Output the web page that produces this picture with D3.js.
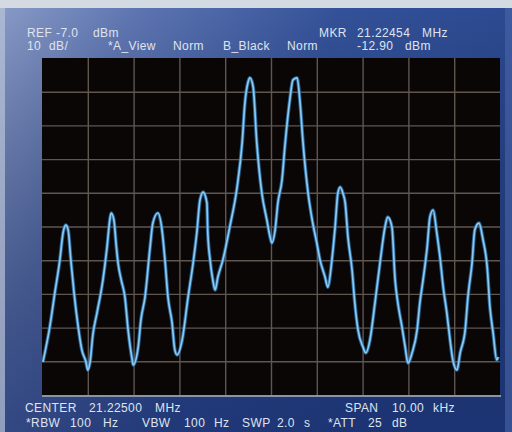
<!DOCTYPE html>
<html>
<head>
<meta charset="utf-8">
<script src="https://cdn.jsdelivr.net/npm/d3@7"></script>
<style>
  html, body { margin: 0; padding: 0; background: #2c4a8e; }
  svg { display: block; }
  .grid line { stroke: #5f5650; stroke-width: 1.4; }
  .grid .domain { display: none; }
  .readout { font-family: "Liberation Sans", Arial, sans-serif; font-size: 12px; letter-spacing: 0.4px; fill: #dfe4ef; }
</style>
</head>
<body>
<div id="chart"></div>
<script>
// instrument settings
const refLevelDbm = -7.0;
const dbPerDiv = 10;
const centerMHz = 21.225;
const spanKHz = 10.0;
const markerMHz = 21.22454;
const markerDbm = -12.90;

// trace: offset from center (kHz) and level (dBm)
const freqOffsetKHz = [
  -4.98, -4.83, -4.72, -4.61, -4.54, -4.48, -4.43, -4.37, -4.30, -4.21,
  -4.13, -4.04, -4.00, -3.95, -3.89, -3.80, -3.67, -3.58, -3.52, -3.49,
  -3.43, -3.38, -3.34, -3.27, -3.19, -3.12, -3.03, -3.01, -2.90, -2.84,
  -2.75, -2.64, -2.58, -2.47, -2.38, -2.31, -2.25, -2.16, -2.10, -2.05,
  -1.94, -1.81, -1.70, -1.62, -1.55, -1.48, -1.40, -1.38, -1.33, -1.27,
  -1.22, -1.16, -1.05, -0.90, -0.74, -0.63, -0.57, -0.50, -0.46, -0.39,
  -0.31, -0.20, -0.09, -0.02, 0.02, 0.09, 0.15, 0.24, 0.31, 0.41,
  0.48, 0.57, 0.63, 0.70, 0.81, 0.90, 1.00, 1.07, 1.18, 1.24,
  1.33, 1.40, 1.46, 1.51, 1.57, 1.62, 1.68, 1.77, 1.83, 1.90,
  2.01, 2.07, 2.16, 2.27, 2.38, 2.49, 2.55, 2.64, 2.71, 2.77,
  2.86, 2.93, 2.99, 3.08, 3.19, 3.25, 3.32, 3.41, 3.47, 3.54,
  3.62, 3.69, 3.76, 3.84, 3.91, 3.97, 4.06, 4.13, 4.24, 4.30,
  4.39, 4.45, 4.54, 4.63, 4.72, 4.78, 4.85, 4.93, 4.96
];
const levelDbm = [
  -97.2, -86.8, -76.7, -66.9, -58.9, -56.6, -58.0, -66.9, -76.7, -86.8,
  -93.6, -97.2, -99.6, -97.2, -89.2, -82.7, -72.9, -63.1, -55.1, -53.0,
  -55.1, -62.5, -67.8, -72.9, -77.9, -87.7, -96.6, -98.1, -92.8, -84.7,
  -77.9, -63.1, -56.0, -53.0, -58.0, -67.8, -77.9, -85.6, -93.6, -95.1,
  -90.7, -77.9, -67.8, -58.9, -49.1, -46.8, -50.0, -58.9, -66.9, -72.9,
  -75.8, -72.0, -66.9, -57.1, -45.3, -32.2, -20.4, -14.1, -12.9, -15.6,
  -32.2, -47.1, -55.1, -60.1, -61.9, -58.0, -50.0, -43.2, -32.2, -19.5,
  -13.5, -12.9, -19.5, -32.2, -47.1, -55.1, -61.9, -66.9, -72.0, -75.0,
  -66.9, -57.1, -47.1, -45.3, -47.1, -50.0, -60.1, -69.9, -79.7, -87.7,
  -92.8, -94.5, -90.7, -79.7, -67.8, -57.1, -54.2, -57.1, -72.9, -79.7,
  -86.8, -92.8, -97.5, -94.5, -87.7, -79.7, -72.9, -63.1, -54.2, -52.1,
  -58.9, -66.1, -75.0, -82.7, -90.7, -96.6, -99.6, -94.5, -87.7, -77.9,
  -67.8, -58.0, -56.0, -61.0, -69.0, -80.9, -88.6, -96.6, -95.7
];

const W = 512, H = 432;
const screen = { left: 42, top: 58, right: 500, bottom: 395 };

const svg = d3.select("#chart").append("svg")
  .attr("width", W).attr("height", H);

const defs = svg.append("defs");
const panelGrad = defs.append("linearGradient")
  .attr("id", "panel").attr("x1", "0").attr("y1", "0").attr("x2", "1").attr("y2", "0.35");
panelGrad.append("stop").attr("offset", "0").attr("stop-color", "#8a9cc8");
panelGrad.append("stop").attr("offset", "0.25").attr("stop-color", "#5d75b2");
panelGrad.append("stop").attr("offset", "0.6").attr("stop-color", "#34529a");
panelGrad.append("stop").attr("offset", "1").attr("stop-color", "#2a4890");

const shade = defs.append("linearGradient")
  .attr("id", "shade").attr("x1", "0").attr("y1", "0").attr("x2", "0").attr("y2", "1");
shade.append("stop").attr("offset", "0").attr("stop-color", "#000").attr("stop-opacity", 0);
shade.append("stop").attr("offset", "1").attr("stop-color", "#0a1a50").attr("stop-opacity", 0.45);

defs.append("clipPath").attr("id", "clip").append("rect")
  .attr("x", screen.left).attr("y", screen.top)
  .attr("width", screen.right - screen.left).attr("height", screen.bottom - screen.top);

// panel background
svg.append("rect").attr("width", W).attr("height", H).attr("fill", "url(#panel)");
svg.append("rect").attr("width", W).attr("height", H).attr("fill", "url(#shade)");
svg.append("rect").attr("width", W).attr("height", 8).attr("fill", "#d3dae2");
svg.append("rect").attr("x", 0).attr("y", 8).attr("width", 5).attr("height", H - 8)
  .attr("fill", "#b9c4d8").attr("opacity", 0.7);
svg.append("rect").attr("x", 505).attr("y", 8).attr("width", 7).attr("height", H - 8)
  .attr("fill", "#4a65a8").attr("opacity", 0.6);

// screen
svg.append("rect")
  .attr("x", screen.left).attr("y", screen.top)
  .attr("width", screen.right - screen.left).attr("height", screen.bottom - screen.top)
  .attr("fill", "#0b0606");
svg.append("line")
  .attr("x1", screen.left).attr("x2", screen.right + 1)
  .attr("y1", screen.bottom + 1).attr("y2", screen.bottom + 1)
  .attr("stroke", "#8b93a6").attr("stroke-width", 2);

const x = d3.scaleLinear().domain([-spanKHz / 2, spanKHz / 2]).range([screen.left, screen.right]);
const y = d3.scaleLinear().domain([refLevelDbm - 10 * dbPerDiv, refLevelDbm]).range([screen.bottom, screen.top]);

const innerW = screen.right - screen.left;
const innerH = screen.bottom - screen.top;

svg.append("g")
  .attr("class", "grid")
  .attr("transform", `translate(0,${screen.top})`)
  .call(d3.axisTop(x).tickValues(d3.range(-4, 5, 1)).tickSize(-innerH).tickFormat(""));

svg.append("g")
  .attr("class", "grid")
  .attr("transform", `translate(${screen.left},0)`)
  .call(d3.axisLeft(y).tickValues(d3.range(1, 10).map((i) => refLevelDbm - i * dbPerDiv)).tickSize(-innerW).tickFormat(""));

const points = freqOffsetKHz.map((f, i) => [f, levelDbm[i]]);
const line = d3.line()
  .x((d) => x(d[0]))
  .y((d) => y(d[1]))
  .curve(d3.curveMonotoneX);

const traceG = svg.append("g").attr("clip-path", "url(#clip)");
traceG.append("path").attr("d", line(points))
  .attr("fill", "none").attr("stroke", "#2f7fc0").attr("stroke-width", 3.6).attr("opacity", 0.75);
traceG.append("path").attr("d", line(points))
  .attr("fill", "none").attr("stroke", "#8ccaf0").attr("stroke-width", 1.7);

// readouts (plain hyphen minus, as on the instrument)
const readouts = [
  { x: 27, y: 37, t: "REF" }, { x: 56, y: 37, t: refLevelDbm.toFixed(1) }, { x: 93, y: 37, t: "dBm" },
  { x: 319, y: 37, t: "MKR" }, { x: 357, y: 37, t: markerMHz.toFixed(5) }, { x: 422, y: 37, t: "MHz" },
  { x: 27, y: 50, t: String(dbPerDiv) }, { x: 49, y: 50, t: "dB/" }, { x: 108, y: 50, t: "*A_View" },
  { x: 173, y: 50, t: "Norm" }, { x: 223, y: 50, t: "B_Black" }, { x: 287, y: 50, t: "Norm" },
  { x: 357, y: 50, t: markerDbm.toFixed(2) }, { x: 405, y: 50, t: "dBm" },
  { x: 25, y: 412, t: "CENTER" }, { x: 89, y: 412, t: centerMHz.toFixed(5) }, { x: 155, y: 412, t: "MHz" },
  { x: 345, y: 412, t: "SPAN" }, { x: 392, y: 412, t: spanKHz.toFixed(2) }, { x: 433, y: 412, t: "kHz" },
  { x: 26, y: 427, t: "*RBW" }, { x: 70, y: 427, t: "100" }, { x: 103, y: 427, t: "Hz" },
  { x: 142, y: 427, t: "VBW" }, { x: 184, y: 427, t: "100" }, { x: 214, y: 427, t: "Hz" },
  { x: 242, y: 427, t: "SWP" }, { x: 277, y: 427, t: "2.0" }, { x: 304, y: 427, t: "s" },
  { x: 328, y: 427, t: "*ATT" }, { x: 368, y: 427, t: "25" }, { x: 392, y: 427, t: "dB" }
];

svg.append("g").selectAll("text")
  .data(readouts)
  .join("text")
  .attr("class", "readout")
  .attr("x", (d) => d.x)
  .attr("y", (d) => d.y)
  .text((d) => d.t);
</script>
</body>
</html>
